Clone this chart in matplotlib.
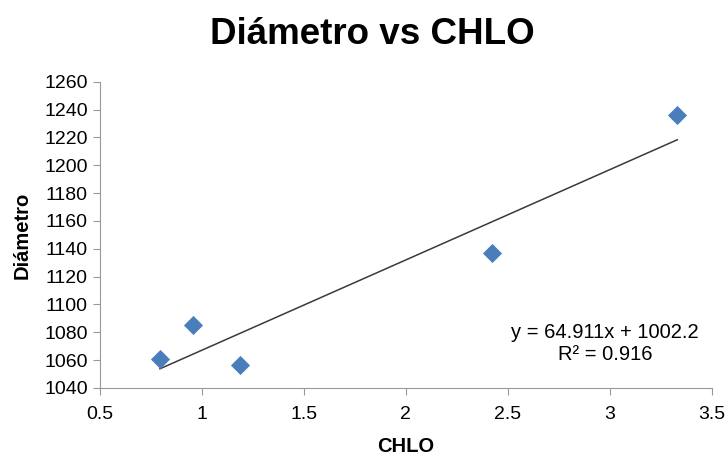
import matplotlib.pyplot as plt
import numpy as np

plt.rcParams['font.family'] = ['Liberation Sans', 'DejaVu Sans']

# measured values
chlo = [0.795, 0.959, 1.189, 2.42, 3.33]
diametro = [1061, 1085, 1056.5, 1137, 1236]

# linear trend reported on the chart
slope = 64.911
intercept = 1002.2
r2 = 0.916

fig = plt.figure(figsize=(7.28, 4.57), dpi=100)
ax = fig.add_axes([0.137, 0.151, 0.841, 0.670])

# trend line across the data range
xt = np.array([min(chlo), max(chlo)])
ax.plot(xt, slope*xt + intercept, color='#3a3a3a', lw=1.1, zorder=2)

ax.scatter(chlo, diametro, marker='D', s=95, color='#4A7EBB', zorder=3, linewidths=0)

ax.set_xlim(0.5, 3.5)
ax.set_ylim(1040, 1260)
ax.set_xticks(np.arange(0.5, 3.51, 0.5))
ax.set_xticklabels(['0.5', '1', '1.5', '2', '2.5', '3', '3.5'])
ax.set_yticks(np.arange(1040, 1261, 20))

for s in ['top', 'right']:
    ax.spines[s].set_visible(False)
for s in ['left', 'bottom']:
    ax.spines[s].set_color('#999999')
ax.tick_params(colors='#999999', labelcolor='black', labelsize=14, length=5, direction='out')
ax.tick_params(axis='x', pad=8)

ax.set_xlabel('CHLO', fontsize=14.5, fontweight='bold', labelpad=10)
ax.set_ylabel('Diámetro', fontsize=14.5, fontweight='bold', labelpad=9)

eq = 'y = {:.3f}x + {:.1f}\nR² = {:.3f}'.format(slope, intercept, r2)
ax.text(0.825, 0.145, eq, transform=ax.transAxes, ha='center', va='center',
        fontsize=14.5, linespacing=1.15)

fig.suptitle('Diámetro vs CHLO', fontsize=26.5, fontweight='bold', x=0.512, y=0.962)

plt.savefig('out.png', dpi=100)
